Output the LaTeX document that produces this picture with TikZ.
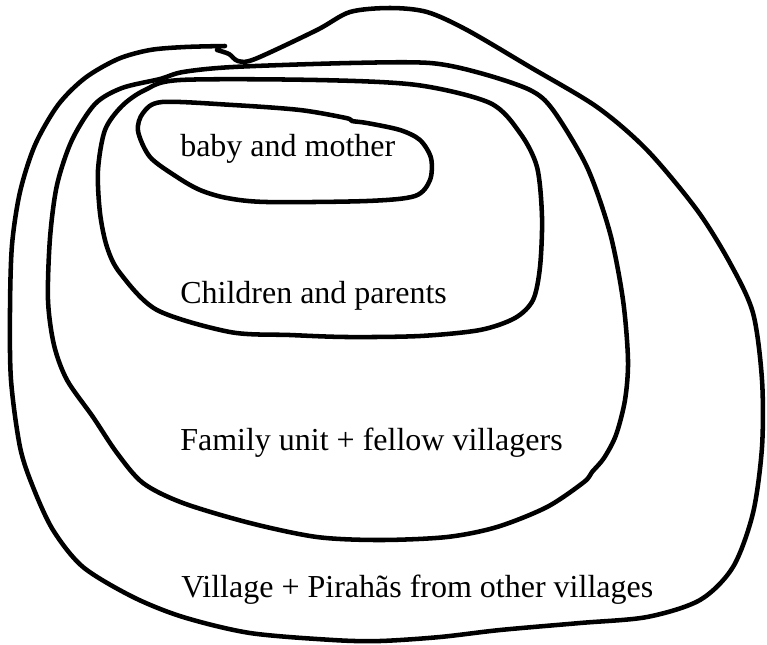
\documentclass[tikz,border=0pt]{standalone}
\usepackage{fontspec}
\setmainfont{Liberation Serif}
\begin{document}
\begin{tikzpicture}[x=0.75pt,y=-0.75pt,
  loop/.style={line width=3.4pt,line cap=round,line join=round},
  lbl/.style={anchor=base west,inner sep=0pt,font=\fontsize{24}{28}\selectfont}]
\useasboundingbox (0,0) rectangle (767,644);
% innermost: baby and mother
\draw[loop] plot[smooth cycle,tension=0.5] coordinates {
 (162,102) (233,105) (300,110) (346,118) (352,121) (367,123) (400,130) (420,140)
 (431,158) (430,180) (415,196) (367,201) (267,202) (227,198) (200,190) (177,177)
 (150,157) (138,131) (143,113)};
% children and parents
\draw[loop] plot[smooth cycle,tension=0.5] coordinates {
 (180,80) (317,80) (417,85) (490,103) (520,133) (537,167) (542,217) (540,267)
 (533,300) (515,318) (480,330) (420,336) (347,337) (290,335) (230,332) (157,310)
 (120,273) (107,247) (100,213) (98,170) (105,130) (122,106) (145,90)};
% family unit
\draw[loop] plot[smooth cycle,tension=0.5] coordinates {
 (183,72) (233,67) (350,63) (430,63) (480,73) (530,90) (553,110) (587,167)
 (610,233) (623,300) (628,360) (625,400) (616,435) (604,458) (592,472) (584,482)
 (547,507) (497,527) (447,537) (380,540) (317,537) (250,523) (183,503) (143,483)
 (117,453) (93,417) (67,380) (54,345) (48,300) (50,238) (57,185) (72,140) (95,104)
 (122,88) (160,79)};
% village (open, with hook at top)
\draw[loop] plot[smooth,tension=0.5] coordinates {
 (225,46) (185,47) (150,50) (118,59) (85,78) (58,105) (35,145) (20,192) (12,245)
 (10,310) (11,380) (20,447) (33,487) (53,530) (83,567) (133,597) (183,617)
 (250,633) (333,640) (380,641) (440,637) (500,630) (580,623) (647,617) (700,600)
 (733,567) (753,513) (762,447) (762,380) (753,313) (730,263) (697,210) (647,150)
 (597,107) (530,67) (467,30) (427,12) (390,8) (350,12) (317,30) (255,59) (238,61)
 (229,54) (217,50)};
\node[lbl] (baby) at (180,156) {baby and mother};
\node[lbl] (children) at (180,303) {Children and parents};
\node[lbl] (family) at (180,450) {Family unit + fellow villagers};
\node[lbl] (village) at (181,597) {Village + Pirahãs from other villages};
\end{tikzpicture}
\end{document}
